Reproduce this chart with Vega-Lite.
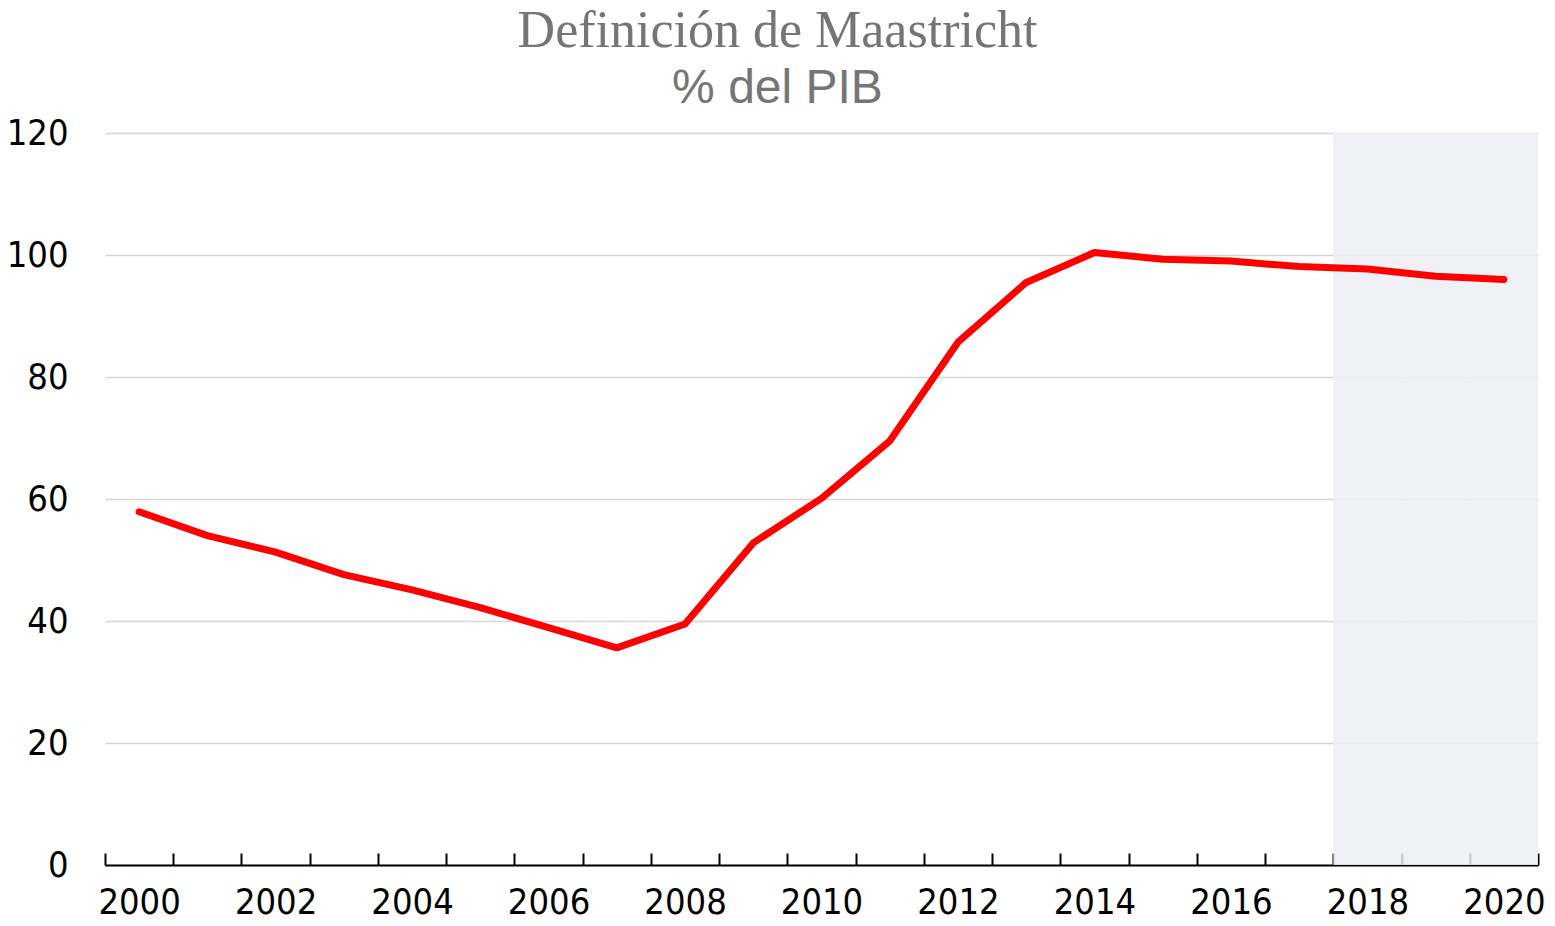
{
  "$schema": "https://vega.github.io/schema/vega-lite/v6.json",
  "width": 1433,
  "height": 732,
  "autosize": {"type": "none"},
  "padding": {"left": 105, "top": 133, "right": 17, "bottom": 61},
  "background": "white",
  "title": {
    "text": "Definición de Maastricht",
    "subtitle": "% del PIB",
    "anchor": "middle",
    "dx": -44,
    "offset": 1,
    "font": "Liberation Serif",
    "fontSize": 52,
    "fontWeight": "normal",
    "color": "#757575",
    "subtitleFont": "Liberation Sans",
    "subtitleFontSize": 48,
    "subtitleColor": "#757575",
    "subtitlePadding": 7
  },
  "data": {
    "values": [
      {"year": 2000, "deuda": 57.9, "proyeccion": false},
      {"year": 2001, "deuda": 54.0, "proyeccion": false},
      {"year": 2002, "deuda": 51.3, "proyeccion": false},
      {"year": 2003, "deuda": 47.6, "proyeccion": false},
      {"year": 2004, "deuda": 45.1, "proyeccion": false},
      {"year": 2005, "deuda": 42.2, "proyeccion": false},
      {"year": 2006, "deuda": 38.9, "proyeccion": false},
      {"year": 2007, "deuda": 35.6, "proyeccion": false},
      {"year": 2008, "deuda": 39.5, "proyeccion": false},
      {"year": 2009, "deuda": 52.8, "proyeccion": false},
      {"year": 2010, "deuda": 60.1, "proyeccion": false},
      {"year": 2011, "deuda": 69.5, "proyeccion": false},
      {"year": 2012, "deuda": 85.7, "proyeccion": false},
      {"year": 2013, "deuda": 95.5, "proyeccion": false},
      {"year": 2014, "deuda": 100.4, "proyeccion": false},
      {"year": 2015, "deuda": 99.3, "proyeccion": false},
      {"year": 2016, "deuda": 99.0, "proyeccion": false},
      {"year": 2017, "deuda": 98.1, "proyeccion": false},
      {"year": 2018, "deuda": 97.7, "proyeccion": true},
      {"year": 2019, "deuda": 96.5, "proyeccion": true},
      {"year": 2020, "deuda": 96.0, "proyeccion": true}
    ]
  },
  "encoding": {
    "x": {
      "field": "year",
      "type": "ordinal",
      "scale": {"type": "band", "paddingInner": 0, "paddingOuter": 0},
      "axis": {
        "title": null,
        "labelAngle": 0,
        "labelExpr": "datum.value % 2 == 0 ? datum.label : ''",
        "labelFont": "DejaVu Sans Condensed, Liberation Sans",
        "labelFontSize": 36,
        "labelColor": "#000000",
        "labelPadding": 32,
        "tickBand": "extent",
        "tickSize": -12,
        "tickColor": "#000000",
        "tickWidth": 2,
        "domainColor": "#000000",
        "domainWidth": 2,
        "grid": false
      }
    }
  },
  "layer": [
    {
      "mark": {"type": "rule", "opacity": 0},
      "encoding": {
        "y": {
          "field": "deuda",
          "type": "quantitative",
          "scale": {"domain": [0, 120], "nice": false},
          "axis": {
            "title": null,
            "values": [0, 20, 40, 60, 80, 100, 120],
            "labelFont": "DejaVu Sans Condensed, Liberation Sans",
            "labelFontSize": 36,
            "labelColor": "#000000",
            "labelPadding": 37,
            "domain": false,
            "ticks": false,
            "grid": true,
            "gridColor": "#d6d6d6",
            "gridWidth": 1.5
          }
        }
      }
    },
    {
      "transform": [{"filter": "datum.proyeccion"}],
      "mark": {"type": "rect", "color": "#eceef6", "opacity": 0.85},
      "encoding": {
        "y": {"datum": 0, "type": "quantitative"},
        "y2": {"datum": 120}
      }
    },
    {
      "mark": {"type": "line", "color": "#ff0000", "strokeWidth": 7, "strokeCap": "round", "strokeJoin": "round"},
      "encoding": {
        "y": {"field": "deuda", "type": "quantitative"}
      }
    }
  ],
  "config": {"view": {"stroke": null}}
}
